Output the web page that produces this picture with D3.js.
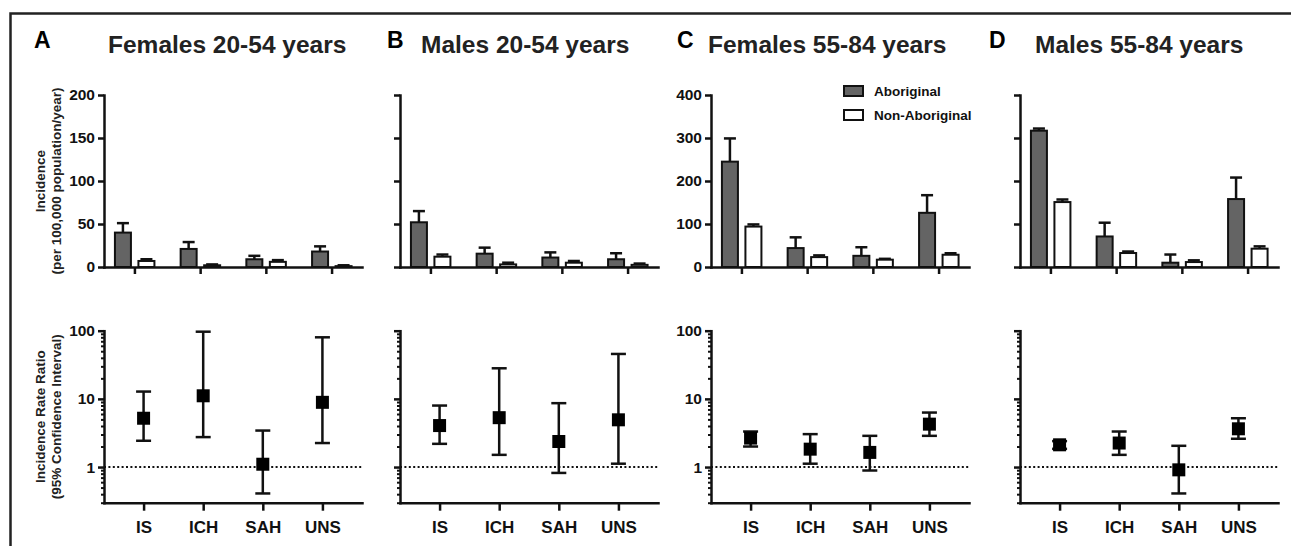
<!DOCTYPE html>
<html>
<head>
<meta charset="utf-8">
<script src="https://cdn.jsdelivr.net/npm/d3@7"></script>
<style>
  body { margin: 0; background: #fff; }
  svg text { font-family: "Liberation Sans", Arial, sans-serif; font-weight: bold; }
</style>
</head>
<body>
<div id="viz"></div>
<script>
// ---- data ----
var categories = ["IS", "ICH", "SAH", "UNS"];
var panelLetters = ["A", "B", "C", "D"];
var panelTitles = ["Females 20-54 years", "Males 20-54 years", "Females 55-84 years", "Males 55-84 years"];
var seriesNames = ["Aboriginal", "Non-Aboriginal"];

// incidence per 100,000 population/year (bar height and upper error)
var aboriginal      = [[40, 21, 9, 18], [52, 15.5, 11, 9], [245, 44, 26, 126], [317, 71, 10, 158]];
var aboriginalUpper = [[51, 29, 13, 24], [65, 22.5, 17, 16], [299, 69, 46, 167], [322, 103, 29, 208]];
var nonAboriginal      = [[7, 2, 6, 1], [12, 3, 5, 2.5], [94, 23, 17, 28.5], [151, 32.5, 11.5, 42.6]];
var nonAboriginalUpper = [[9, 3, 8, 2], [14.5, 5, 7, 4], [99, 27, 19, 32], [157, 36, 15.5, 48]];
var incMax = [200, 200, 400, 400];
var incTicks = [[0, 50, 100, 150, 200], [0, 50, 100, 150, 200], [0, 100, 200, 300, 400], [0, 100, 200, 300, 400]];
var showTickLabels = [true, false, true, false];

// incidence rate ratio with 95% CI
var irr     = [[5.2, 11.1, 1.1, 8.9], [4.06, 5.3, 2.37, 4.93], [2.66, 1.83, 1.64, 4.26], [2.12, 2.25, 0.91, 3.64]];
var irrLow  = [[2.43, 2.75, 0.41, 2.25], [2.19, 1.51, 0.82, 1.12], [2.0, 1.12, 0.89, 2.87], [1.85, 1.51, 0.41, 2.6]];
var irrHigh = [[12.8, 96.7, 3.43, 80], [7.98, 28.1, 8.65, 45.6], [3.32, 3.04, 2.87, 6.3], [2.4, 3.32, 2.05, 5.2]];
var irrDomain = [0.3, 100];
var irrMajor = [1, 10, 100];

// ---- layout ----
var width = 1291, height = 546;
var panelX = [104, 400, 711, 1020];
var titleX = [108, 421, 708, 1035];
var letterX = [34, 387, 677, 989];
var axisW = 258;
var topY0 = 95, topY1 = 267;
var botY0 = 330.7, botY1 = 502.7;
var ink = "#111";

var svg = d3.select("#viz").append("svg")
    .attr("width", width)
    .attr("height", height)
    .style("display", "block");

svg.append("rect").attr("width", width).attr("height", height).attr("fill", "#fff");

// frame (top and left edges only visible)
svg.append("path")
    .attr("d", "M10.5," + (height + 10) + "V13.5H" + (width + 10))
    .attr("fill", "none")
    .attr("stroke", "#222")
    .attr("stroke-width", 2.5);

var xTop = d3.scalePoint().domain(categories).range([0, axisW]).padding(0.463);
var xBot = d3.scalePoint().domain(categories).range([0, axisW]).padding(0.664);
var yLog = d3.scaleLog().domain(irrDomain).range([botY1, botY0]);

function styleAxis(g) {
  g.selectAll("path.domain").attr("stroke", ink).attr("stroke-width", 2.5).attr("stroke-linecap", "square");
  g.selectAll(".tick line").attr("stroke", ink).attr("stroke-width", 2.5);
  g.selectAll(".tick text").attr("fill", ink);
}

for (var p = 0; p < 4; p++) {
  var g = svg.append("g").attr("transform", "translate(" + panelX[p] + ",0)");

  // letter + title
  svg.append("text").attr("x", letterX[p]).attr("y", 48)
      .attr("font-size", 23).attr("fill", "#000").text(panelLetters[p]);
  svg.append("text").attr("x", titleX[p]).attr("y", 53)
      .attr("font-size", 24.5).attr("fill", "#222").text(panelTitles[p]);

  // ---- incidence bars ----
  var y = d3.scaleLinear().domain([0, incMax[p]]).range([topY1, topY0]);

  var rows = categories.map(function(c, i) {
    return [
      {cat: c, v: aboriginal[p][i], up: aboriginalUpper[p][i], dx: -11.5, fill: "#646464"},
      {cat: c, v: nonAboriginal[p][i], up: nonAboriginalUpper[p][i], dx: 12, fill: "#fff"}
    ];
  }).flat();

  // error bars first so the bar covers the stem
  rows.forEach(function(d) {
    var cx = xTop(d.cat) + d.dx;
    g.append("line").attr("x1", cx).attr("x2", cx)
        .attr("y1", y(d.v)).attr("y2", y(d.up))
        .attr("stroke", ink).attr("stroke-width", 2.5);
    g.append("line").attr("x1", cx - 6).attr("x2", cx + 6)
        .attr("y1", y(d.up)).attr("y2", y(d.up))
        .attr("stroke", ink).attr("stroke-width", 2.5);
  });

  g.selectAll("rect.bar").data(rows).enter().append("rect")
      .attr("class", "bar")
      .attr("x", function(d) { return xTop(d.cat) + d.dx - 8; })
      .attr("width", 16)
      .attr("y", function(d) { return y(d.v); })
      .attr("height", function(d) { return topY1 - y(d.v); })
      .attr("fill", function(d) { return d.fill; })
      .attr("stroke", ink).attr("stroke-width", 2);

  var yAx = d3.axisLeft(y).tickValues(incTicks[p]).tickSize(6).tickSizeOuter(0).tickPadding(3)
      .tickFormat(showTickLabels[p] ? d3.format("d") : function() { return ""; });
  g.append("g").call(yAx).attr("font-size", 15.5).call(styleAxis);

  var xAx = d3.axisBottom(xTop).tickSize(7).tickSizeOuter(0).tickFormat(function() { return ""; });
  g.append("g").attr("transform", "translate(0," + topY1 + ")").call(xAx).call(styleAxis);

  // ---- rate ratios ----
  g.append("line").attr("x1", 0).attr("x2", axisW)
      .attr("y1", yLog(1)).attr("y2", yLog(1))
      .attr("stroke", ink).attr("stroke-width", 2).attr("stroke-dasharray", "2,2.4");

  var logTicks = yLog.ticks();
  var yLogAx = d3.axisLeft(yLog).tickValues(logTicks).tickSizeOuter(0).tickPadding(3)
      .tickFormat(function(d) { return (showTickLabels[p] && irrMajor.indexOf(d) >= 0) ? d : ""; });
  var lg = g.append("g").call(yLogAx).attr("font-size", 15.5).call(styleAxis);
  lg.selectAll(".tick line")
      .attr("x2", function(d) { return irrMajor.indexOf(d) >= 0 ? -6 : -3; })
      .attr("stroke-width", function(d) { return irrMajor.indexOf(d) >= 0 ? 2.5 : 2; });

  var xbAx = d3.axisBottom(xBot).tickSize(8).tickSizeOuter(0).tickPadding(10);
  g.append("g").attr("transform", "translate(0," + botY1 + ")").call(xbAx)
      .attr("font-size", 17).call(styleAxis);

  categories.forEach(function(c, i) {
    var cx = xBot(c);
    g.append("line").attr("x1", cx).attr("x2", cx)
        .attr("y1", yLog(irrLow[p][i])).attr("y2", yLog(irrHigh[p][i]))
        .attr("stroke", ink).attr("stroke-width", 2.5);
    [irrLow[p][i], irrHigh[p][i]].forEach(function(v) {
      g.append("line").attr("x1", cx - 7.5).attr("x2", cx + 7.5)
          .attr("y1", yLog(v)).attr("y2", yLog(v))
          .attr("stroke", ink).attr("stroke-width", 2.5);
    });
    g.append("rect").attr("x", cx - 6.5).attr("y", yLog(irr[p][i]) - 6.5)
        .attr("width", 13).attr("height", 13).attr("fill", "#000");
  });
}

// y-axis titles (first column only)
function yTitle(lines, cy) {
  var t = svg.append("text")
      .attr("transform", "translate(45," + cy + ") rotate(-90)")
      .attr("text-anchor", "middle").attr("font-size", 13.5).attr("fill", "#222");
  lines.forEach(function(s, i) {
    t.append("tspan").attr("x", 0).attr("dy", i === 0 ? 0 : 15.5).text(s);
  });
}
yTitle(["Incidence", "(per 100,000 population/year)"], (topY0 + topY1) / 2);
yTitle(["Incidence Rate Ratio", "(95% Confidence Interval)"], (botY0 + botY1) / 2);

// legend in panel C
var legend = svg.append("g").attr("transform", "translate(" + (panelX[2] + 133) + ",86)");
seriesNames.forEach(function(name, i) {
  legend.append("rect").attr("x", 0).attr("y", i * 24).attr("width", 19).attr("height", 10)
      .attr("fill", i === 0 ? "#646464" : "#fff").attr("stroke", ink).attr("stroke-width", 2);
  legend.append("text").attr("x", 30).attr("y", i * 24 + 10)
      .attr("font-size", 13.5).attr("fill", ink).text(name);
});
</script>
</body>
</html>
